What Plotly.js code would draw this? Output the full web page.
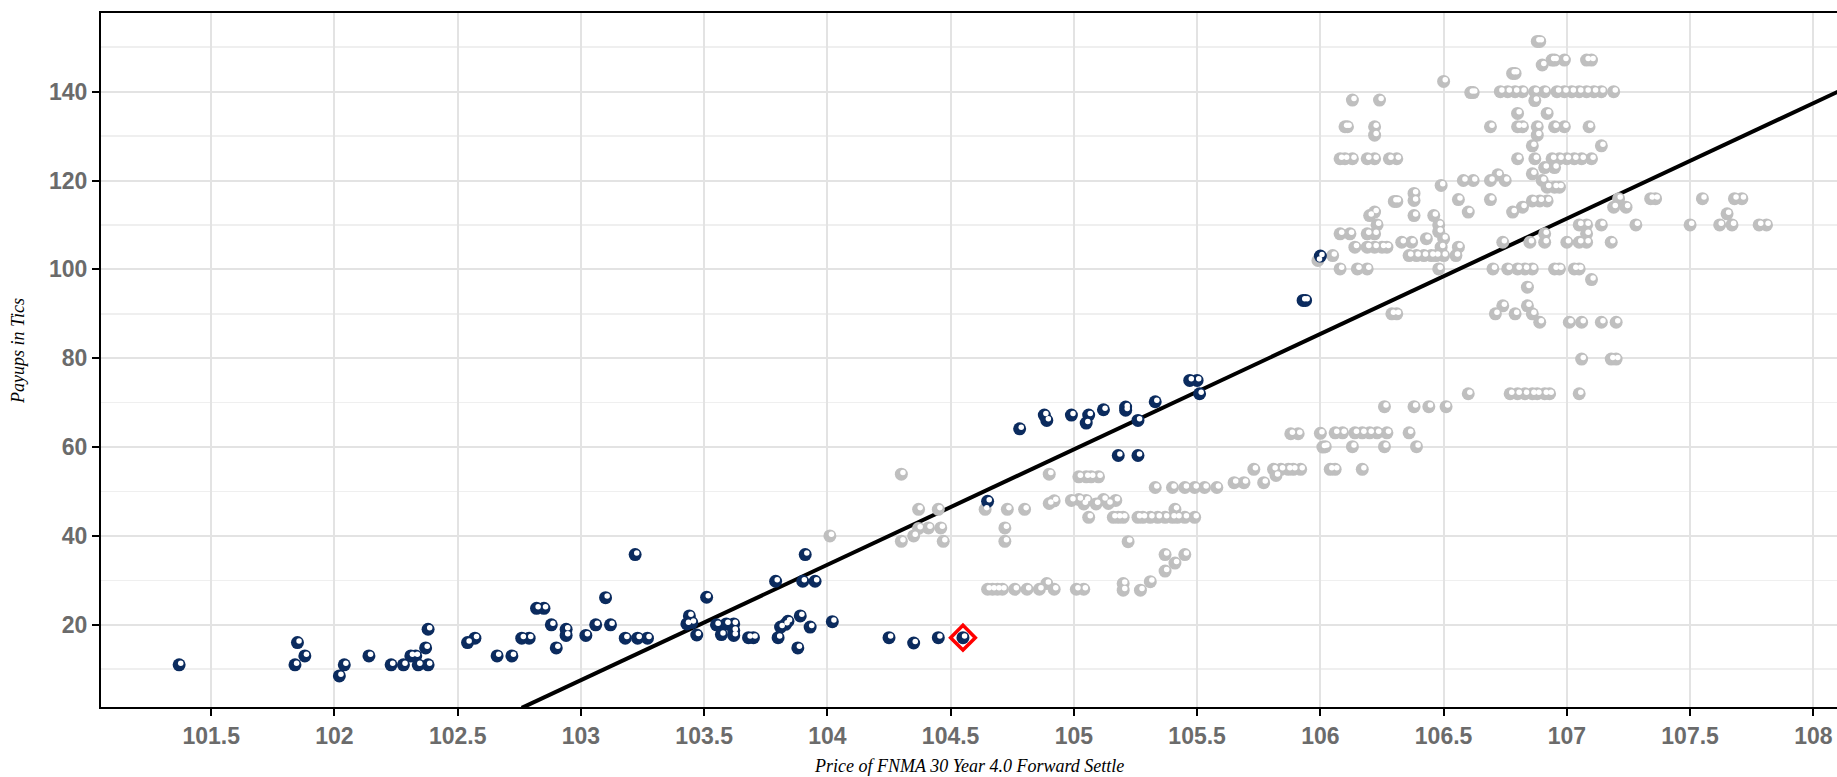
<!DOCTYPE html>
<html><head><meta charset="utf-8">
<script src="https://cdn.plot.ly/plotly-3.0.1.min.js"></script>
<style>html,body{margin:0;padding:0;background:#fff;overflow:hidden}#chart{width:1837px;height:777px}</style>
</head><body><div id="chart"></div>
<script>
// Historical payups (grey)
const greyX = [104.01,104.30,104.30,104.35,104.37,104.37,104.41,104.45,104.46,104.47,
104.64,104.73,104.80,104.72,104.72,104.90,104.90,104.92,
104.65,104.67,104.69,104.71,104.76,104.81,104.86,104.89,104.92,105.01,105.04,
105.02,105.05,105.07,105.10,
104.99,105.02,105.04,105.05,105.09,105.12,105.14,105.17,
105.06,105.16,105.18,105.20,105.26,105.28,105.31,105.34,105.37,105.40,105.42,105.45,105.49,105.41,
105.22,105.37,105.45,105.41,105.37,105.31,105.27,105.20,105.20,
105.33,105.40,105.45,105.49,105.53,105.58,
105.65,105.69,105.77,
105.73,105.81,105.84,105.87,105.89,105.92,105.82,
105.88,105.91,106.00,106.01,106.04,106.06,106.17,
106.06,106.09,106.14,106.17,106.20,106.23,106.27,106.36,
106.02,106.13,106.26,106.39,
106.26,106.38,106.44,106.51,
106.60,106.77,106.80,106.83,106.86,106.88,106.91,106.93,107.05,
107.06,107.18,107.20,
106.29,106.31,
106.71,106.74,106.79,106.84,106.86,106.89,
107.01,107.06,107.14,107.20,
106.84,107.10,
106.70,106.76,106.80,106.83,106.86,106.95,106.97,107.03,107.05,
105.99,106.05,
106.08,106.15,106.19,
106.08,106.12,106.19,106.22,106.23,
106.14,106.19,106.22,106.25,106.27,
106.20,106.22,
106.30,106.31,106.38,106.38,
106.38,106.46,106.48,106.48,
106.33,106.37,106.43,106.50,106.49,106.56,
106.36,106.39,106.42,106.45,106.47,106.50,106.55,
106.48,
106.49,106.56,106.60,
106.58,106.62,106.69,106.72,106.75,
106.69,106.78,106.82,
106.86,106.89,106.92,
106.80,106.87,
106.86,106.90,
106.92,106.95,106.97,
106.74,106.85,106.91,107.00,107.05,107.08,107.18,
106.91,107.08,
107.05,107.08,107.14,107.28,107.50,107.62,107.67,107.78,107.81,
107.65,
107.19,107.24,107.21,
107.34,107.36,
107.55,107.68,107.71,
106.08,106.10,106.13,106.19,106.22,106.28,106.31,
106.94,106.97,107.00,107.03,107.06,107.10,
106.91,106.95,
107.14,106.86,
106.10,106.11,106.22,106.22,
106.69,106.80,106.82,106.88,106.88,106.95,106.99,107.09,
106.80,106.92,
106.13,106.24,
106.50,
106.61,106.62,
106.73,106.76,106.79,106.82,106.87,106.91,106.87,
106.96,106.99,107.02,107.05,107.08,107.11,107.14,107.19,
106.78,106.79,
106.90,106.94,106.95,106.99,
107.08,107.10,
106.88,106.89];
const greyY = [40,53.9,38.8,40,41.7,46,41.8,46,41.8,38.8,
46,46,46,41.8,38.8,53.9,47.3,47.9,
28,28,28,28,28,28,28,29.3,28,28,28,
53.3,53.3,53.3,53.3,
48,48.2,47.2,48,47.2,48.2,47.3,48,
44.2,44.2,44.2,44.2,44.2,44.2,44.2,44.2,44.2,44.2,44.2,44.2,44.2,46,
38.7,35.8,35.8,33.9,32.1,29.7,27.8,29.3,27.8,
50.9,50.9,50.9,50.9,50.9,50.9,
52,52,52,
55,55,55,55,55,55,53.6,
63,63,63.1,60,55,55,55,
63.2,63.2,63.2,63.2,63.2,63.2,63.2,63.2,
60.1,60.1,60.1,60.1,
69.1,69.1,69.1,69.1,
72,72,72,72,72,72,72,72,72,
79.8,79.8,79.8,
90,90,
90,91.8,90,91.8,90,88.1,
88.1,88.1,88.1,88.1,
96,97.7,
100.1,100.1,100.1,100.1,100.1,100.1,100.1,100.1,100.1,
102,103.1,
100.1,100.1,100.1,
108,108,108,108,110,
105,105,105,105,105,
112.1,112.9,
115.3,115.3,117.1,115.5,
112.1,112.1,110,108.5,
106.1,106.1,106.9,106.9,105,105,
103.1,103.1,103.1,103.1,103.1,103.1,103.1,
100.1,
118.9,115.7,112.9,
120,120,120,121.3,120,
115.7,112.9,114,
115.4,115.4,115.4,
124.9,124.9,
121.5,120,
118.5,118.5,118.5,
106.1,106.1,106.1,106.1,106.1,106.1,106.1,
108,108,
110,110,110,110,110,110,110,110,110,
112.5,
114,114,115.9,
115.9,115.9,
115.9,115.9,115.9,
124.9,124.9,124.9,124.9,124.9,124.9,124.9,
124.9,124.9,124.9,124.9,124.9,124.9,
122.9,122.9,
127.8,127.8,
132.1,132.1,132.1,130.2,
132.1,132.1,132.1,132.1,130.2,132.1,132.1,132.1,
135.1,135.1,
138.1,138.1,
142.3,
139.8,139.8,
140,140,140,140,140,140,138,
140,140,140,140,140,140,140,140,
144.1,144.1,
146,147.1,147.1,147.1,
147.1,147.1,
151.3,151.3];

// Recent payups (navy)
const navyX = [101.37,101.84,101.85,101.88,102.02,102.04,102.14,102.23,102.28,102.31,102.33,102.34,102.37,102.38,102.38,
102.54,102.57,102.66,102.72,102.76,102.79,102.82,102.85,102.88,102.90,102.94,102.94,103.02,103.06,103.10,103.12,
103.18,103.23,103.27,103.22,103.44,103.43,103.45,103.47,103.51,103.55,103.57,103.59,103.62,103.62,103.62,
103.68,103.70,103.80,103.81,103.83,103.84,103.79,103.89,103.93,103.88,103.90,103.95,103.91,104.02,
104.25,104.35,104.45,104.55,104.65,104.78,104.88,104.89,104.99,105.06,105.05,105.12,105.21,105.21,105.26,
105.33,105.47,105.50,105.51,105.18,105.26,105.93,105.94,106.00];
const navyY = [11,11,16,13,8.5,11,13,11,11,13,13,11,14.8,11,19,
16,17,13,13,17,17,23.7,23.7,20,14.8,19,17.6,17.6,20,26.1,20,
17,17,17,35.8,22,20.2,20.5,17.7,26.2,20,17.8,20.2,20.2,18.7,17.6,
17.1,17.1,17.1,19.5,20.1,20.8,29.8,22,19.5,14.8,29.8,29.8,35.8,20.7,
17.1,15.9,17.1,17.1,47.8,64.1,67.2,66,67.2,67.2,65.4,68.4,69,68.3,66,
70.2,75,75,72,58.1,58.1,93,93,103];

// Current observation (red diamond)
const currentX = [104.55];
const currentY = [17.1];

// Fitted regression line end points
const fitX = [102.76, 108.10];
const fitY = [1.3, 140.0];

const xTickVals = [101.5,102,102.5,103,103.5,104,104.5,105,105.5,106,106.5,107,107.5,108];
const xTickText = ['101.5','102','102.5','103','103.5','104','104.5','105','105.5','106','106.5','107','107.5','108'];
const yTickVals = [20,40,60,80,100,120,140];

const xRange = [101.053, 108.096];
const yRange = [1.5, 157.7];
const W = 1837, H = 777, mL = 101, mR = 0, mT = 13, mB = 70;
const pxX = (W - mL - mR) / (xRange[1] - xRange[0]);
const pxY = (H - mT - mB) / (yRange[1] - yRange[0]);
const shX = 1.6 / pxX, shY = 1.6 / pxY;

const NAVY = '#0b2b5e', GREY = '#bfbfbf';

const traces = [
  {x: fitX, y: fitY, mode: 'lines', line: {color: '#000', width: 4}, hoverinfo: 'skip', showlegend: false},
  {x: greyX, y: greyY, mode: 'markers', marker: {color: GREY, size: 13, line: {width: 0}}, showlegend: false},
  {x: greyX, y: greyY, mode: 'markers', xaxis: 'x2', yaxis: 'y2', marker: {color: '#fff', size: 5.5, line: {width: 0}}, hoverinfo: 'skip', showlegend: false},
  {x: navyX, y: navyY, mode: 'markers', marker: {color: NAVY, size: 13, line: {width: 0}}, showlegend: false},
  {x: navyX, y: navyY, mode: 'markers', xaxis: 'x2', yaxis: 'y2', marker: {color: '#fff', size: 5.5, line: {width: 0}}, hoverinfo: 'skip', showlegend: false},
  {x: currentX, y: currentY, mode: 'markers', marker: {symbol: 'diamond-open', color: '#ff0000', size: 19, line: {color: '#ff0000', width: 3.5}}, showlegend: false}
];

const tickFont = {family: 'Liberation Sans, Arial, sans-serif', size: 23, color: '#6b6b6b', weight: 'bold'};
const titleFont = {family: 'Liberation Serif, Times New Roman, serif', size: 18, color: '#000', style: 'italic'};

const layout = {
  width: W, height: H,
  margin: {l: mL, r: mR, t: mT, b: mB, pad: 0},
  paper_bgcolor: '#fff', plot_bgcolor: '#fff',
  xaxis: {
    range: xRange, tickmode: 'array', tickvals: xTickVals, ticktext: xTickText,
    showgrid: true, gridcolor: '#e3e3e3', gridwidth: 2,
    zeroline: false, showline: true, linecolor: '#000', linewidth: 2, mirror: true,
    ticks: 'outside', ticklen: 7, tickwidth: 2, tickcolor: '#000',
    tickfont: tickFont, ticklabelstandoff: 0
  },
  yaxis: {
    range: yRange, tickmode: 'array', tickvals: yTickVals,
    showgrid: true, gridcolor: '#e3e3e3', gridwidth: 2,
    minor: {tickmode: 'linear', tick0: 0, dtick: 10, showgrid: true, gridcolor: '#efefef', gridwidth: 1.5, ticks: ''},
    zeroline: false, showline: true, linecolor: '#000', linewidth: 2, mirror: false,
    ticks: 'outside', ticklen: 7, tickwidth: 2, tickcolor: '#000',
    tickfont: tickFont, ticklabelstandoff: 0
  },
  xaxis2: {overlaying: 'x', range: [xRange[0] - shX, xRange[1] - shX], visible: false},
  yaxis2: {overlaying: 'y', range: [yRange[0] - shY, yRange[1] - shY], visible: false},
  annotations: [
    {text: 'Price of FNMA 30 Year 4.0 Forward Settle', xref: 'paper', yref: 'paper', x: 0.5, y: 0,
     xanchor: 'center', yanchor: 'middle', yshift: -59, showarrow: false, font: titleFont},
    {text: 'Payups in Tics', xref: 'paper', yref: 'paper', x: 0, y: 0.5, textangle: -90,
     xanchor: 'center', yanchor: 'middle', xshift: -83, yshift: 9, showarrow: false, font: titleFont}
  ]
};

Plotly.newPlot('chart', traces, layout, {displayModeBar: false, staticPlot: true});
</script></body></html>
